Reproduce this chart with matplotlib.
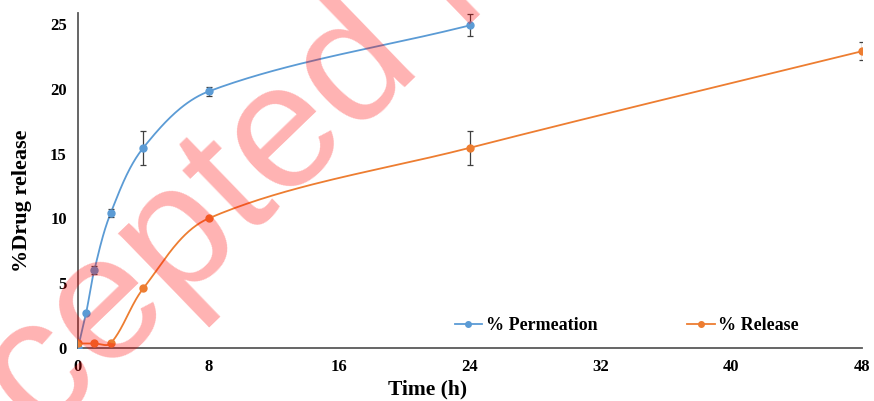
import numpy as np
import matplotlib.pyplot as plt

# time points (h) and mean values (%), with standard deviations
perm_time = [0, 0.5, 1, 2, 4, 8, 24]
perm_value = [0, 2.7, 6.0, 10.4, 15.45, 19.8, 24.9]
perm_err = [0, 0.1, 0.3, 0.3, 1.3, 0.35, 0.85]

rel_time = [0, 1, 2, 4, 8, 24, 48]
rel_value = [0.35, 0.35, 0.35, 4.6, 10.0, 15.45, 22.9]
rel_err = [0, 0, 0, 0, 0, 1.3, 0.7]

x_ticks = [0, 8, 16, 24, 32, 40, 48]
y_ticks = [0, 5, 10, 15, 20, 25]

BLUE = "#5B9BD5"
ORANGE = "#ED7D31"
FONT = "Liberation Serif"


def smooth_line(ax, xs, ys, steps=40):
    # spreadsheet-style smoothed line: cubic bezier segments whose control arms
    # are scaled by the on-screen segment lengths
    pts = ax.transData.transform(np.column_stack([xs, ys]).astype(float))
    padded = np.vstack([pts[0], pts, pts[-1]])
    out = []
    t = np.linspace(0, 1, steps)[:, None]
    for i in range(1, len(padded) - 2):
        p0, p1, p2, p3 = padded[i - 1], padded[i], padded[i + 1], padded[i + 2]
        d01 = np.hypot(*(p1 - p0))
        d12 = np.hypot(*(p2 - p1))
        d23 = np.hypot(*(p3 - p2))
        f1 = d12 / (d01 + d12) / 3 if d01 > 0 else 1 / 3
        f2 = d12 / (d12 + d23) / 3 if d23 > 0 else 1 / 3
        c1 = p1 + (p2 - p0) * f1
        c2 = p2 - (p3 - p1) * f2
        seg = ((1 - t) ** 3) * p1 + 3 * ((1 - t) ** 2) * t * c1 + 3 * (1 - t) * t ** 2 * c2 + t ** 3 * p2
        out.append(seg)
    curve = ax.transData.inverted().transform(np.vstack(out))
    return curve[:, 0], curve[:, 1]


fig = plt.figure(figsize=(8.74, 4.01), dpi=100)
ax = fig.add_axes([0.0892, 0.1322, 0.8971, 0.8354])
ax.set_xlim(0, 48)
ax.set_ylim(0, 25.85)

for xs, ys, err, color, label in [
    (perm_time, perm_value, perm_err, BLUE, "% Permeation"),
    (rel_time, rel_value, rel_err, ORANGE, "% Release"),
]:
    sx, sy = smooth_line(ax, xs, ys)
    ax.plot(sx, sy, color=color, lw=1.3, zorder=2)
    ax.errorbar(xs, ys, yerr=err, fmt="none", ecolor="#404040", elinewidth=0.9,
                capsize=2.5, capthick=0.9, zorder=3)
    ax.plot(xs, ys, "o", color=color, ms=5, zorder=4)
    ax.plot([], [], "-o", color=color, lw=1.3, ms=4, label=label)

ax.set_xlim(0, 48)
ax.set_ylim(0, 25.85)
ax.set_xticks(x_ticks)
ax.set_yticks(y_ticks)
for spine in ["top", "right"]:
    ax.spines[spine].set_visible(False)
for spine in ["left", "bottom"]:
    ax.spines[spine].set_color("#595959")
    ax.spines[spine].set_linewidth(1.3)
ax.tick_params(length=0, labelsize=12, pad=8)
for lab in ax.get_xticklabels() + ax.get_yticklabels():
    lab.set_fontfamily(FONT)
    lab.set_fontweight("bold")

ax.set_xlabel("Time (h)", fontfamily=FONT, fontweight="bold", fontsize=15.5)
ax.set_ylabel("%Drug release", fontfamily=FONT, fontweight="bold", fontsize=16)
ax.xaxis.set_label_coords(0.446, -0.093)
ax.yaxis.set_label_coords(-0.058, 0.439)

ax.legend(loc="center", bbox_to_anchor=(0.70, 0.066), ncol=2, frameon=False,
          prop={"family": FONT, "weight": "bold", "size": 13},
          handlelength=1.5, handletextpad=0.2, columnspacing=5.0)

# diagonal watermark across the lower left
fig.text(-0.124, -0.456, "Accepted Manuscript", fontfamily="Liberation Sans",
         fontsize=128, color="red", alpha=0.3, rotation=44,
         rotation_mode="anchor", ha="left", va="baseline", zorder=10)

fig.savefig("out.png", dpi=100)
